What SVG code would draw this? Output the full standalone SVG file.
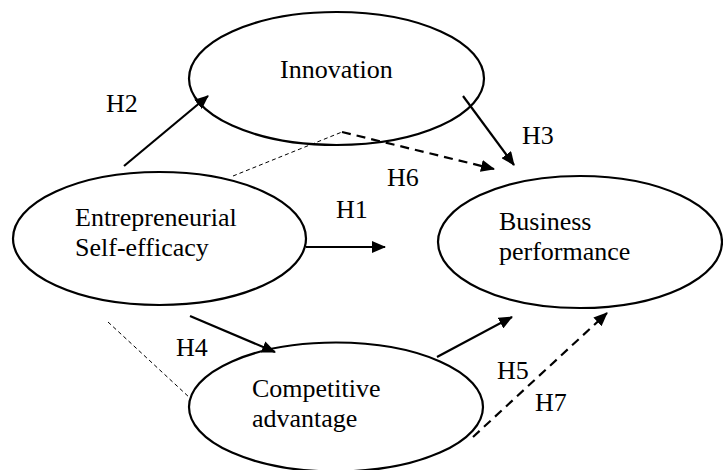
<svg xmlns="http://www.w3.org/2000/svg" width="723" height="470" viewBox="0 0 723 470">
  <style>
    .node { fill: #ffffff; stroke: #000000; stroke-width: 2.2; }
    .label { font-family: "Liberation Serif", "Times New Roman", serif; font-size: 26px; fill: #000000; }
    .solid { stroke: #000000; stroke-width: 2.2; fill: none; }
    .thin-dash { stroke: #000000; stroke-width: 1; stroke-dasharray: 4 3; fill: none; }
    .thick-dash { stroke: #000000; stroke-width: 2.2; stroke-dasharray: 9 6; fill: none; }
  </style>
  <defs>
    <marker id="arrow" viewBox="0 0 14 12" markerWidth="14" markerHeight="12" refX="13" refY="6" orient="auto" markerUnits="userSpaceOnUse">
      <path d="M0,0 L14,6 L0,12 z" fill="#000000"/>
    </marker>
  </defs>
  <rect width="723" height="470" fill="#ffffff"/>

  <g id="innovation">
    <ellipse class="node" cx="336.5" cy="78.5" rx="147.5" ry="66.5"/>
    <text class="label" x="280" y="78">Innovation</text>
  </g>

  <g id="self-efficacy">
    <ellipse class="node" cx="159.5" cy="238.5" rx="146.5" ry="66.5"/>
    <text class="label" x="75" y="226">Entrepreneurial</text>
    <text class="label" x="75" y="256">Self-efficacy</text>
  </g>

  <g id="business-performance">
    <ellipse class="node" cx="580" cy="242" rx="142" ry="66"/>
    <text class="label" x="499" y="230">Business</text>
    <text class="label" x="499" y="260">performance</text>
  </g>

  <g id="competitive-advantage">
    <ellipse class="node" cx="336" cy="407" rx="147" ry="64.5"/>
    <text class="label" x="252" y="397">Competitive</text>
    <text class="label" x="252" y="427">advantage</text>
  </g>

  <g id="connectors">
    <!-- H1: self-efficacy to business performance -->
    <line class="solid" x1="306" y1="247" x2="385" y2="247" marker-end="url(#arrow)"/>
    <!-- H2: self-efficacy to innovation -->
    <line class="solid" x1="124" y1="166" x2="208" y2="96" marker-end="url(#arrow)"/>
    <!-- H3: innovation to business performance -->
    <line class="solid" x1="463" y1="96" x2="514" y2="165" marker-end="url(#arrow)"/>
    <!-- H4: self-efficacy to competitive advantage -->
    <line class="solid" x1="190" y1="316" x2="275" y2="352" marker-end="url(#arrow)"/>
    <!-- H5: competitive advantage to business performance -->
    <line class="solid" x1="437" y1="357" x2="512" y2="317" marker-end="url(#arrow)"/>
    <!-- H6: mediation through innovation -->
    <line class="thin-dash" x1="233" y1="176" x2="342" y2="132"/>
    <line class="thick-dash" x1="342" y1="132" x2="494" y2="169" marker-end="url(#arrow)"/>
    <!-- H7: mediation through competitive advantage -->
    <line class="thin-dash" x1="108" y1="322" x2="190" y2="398"/>
    <line class="thick-dash" x1="473" y1="437" x2="607" y2="313" marker-end="url(#arrow)"/>
  </g>

  <g id="hypothesis-labels">
    <text class="label" x="106" y="112">H2</text>
    <text class="label" x="522" y="144">H3</text>
    <text class="label" x="387" y="186">H6</text>
    <text class="label" x="336" y="218">H1</text>
    <text class="label" x="176" y="356">H4</text>
    <text class="label" x="497" y="379">H5</text>
    <text class="label" x="535" y="411">H7</text>
  </g>
</svg>
